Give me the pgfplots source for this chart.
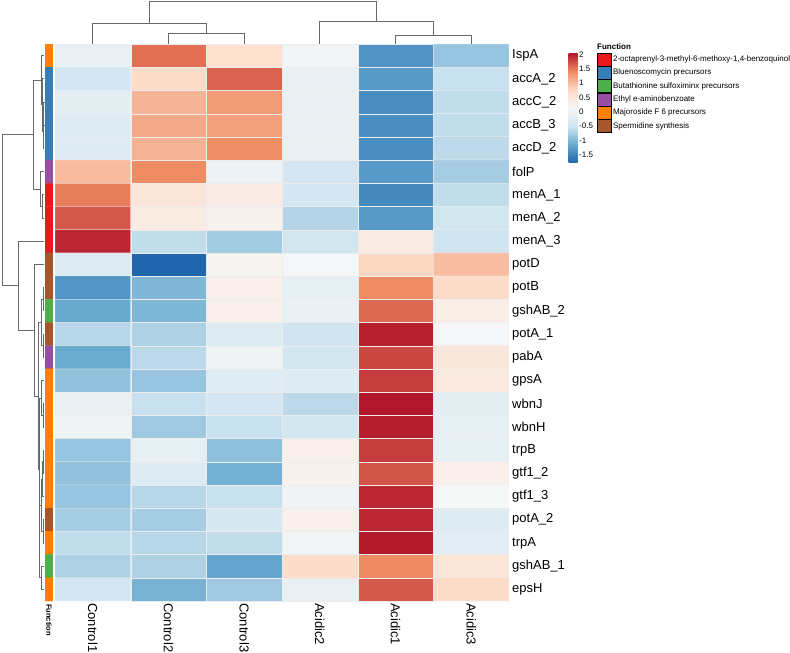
\documentclass[border=0pt]{standalone}
\usepackage{fontspec}
\setmainfont{Liberation Sans}
\usepackage{pgfplots}
\usepackage{pgfplotstable}
\pgfplotsset{compat=1.18}

\definecolor{dendro}{RGB}{105,105,105}
\definecolor{fnred}{RGB}{228,26,28}
\definecolor{fnblue}{RGB}{55,126,184}
\definecolor{fngreen}{RGB}{77,175,74}
\definecolor{fnpurple}{RGB}{152,78,163}
\definecolor{fnorange}{RGB}{255,127,0}
\definecolor{fnbrown}{RGB}{166,86,40}

% row-scaled expression: column index x, gene index y, z-score c
\pgfplotstableread{
x y c
0 0 -0.12
1 0 1.56
2 0 0.65
3 0 0.05
4 0 -1.35
5 0 -0.85
0 1 -0.45
1 1 0.75
2 1 1.63
3 1 -0.10
4 1 -1.27
5 1 -0.55
0 2 -0.20
1 2 1.08
2 2 1.28
3 2 -0.12
4 2 -1.41
5 2 -0.60
0 3 -0.28
1 3 1.17
2 3 1.24
3 3 -0.10
4 3 -1.41
5 3 -0.60
0 4 -0.28
1 4 1.10
2 4 1.38
3 4 -0.12
4 4 -1.41
5 4 -0.62
0 5 1.03
1 5 1.40
2 5 -0.05
3 5 -0.45
4 5 -1.27
5 5 -0.77
0 6 1.48
1 6 0.55
2 6 0.40
3 6 -0.45
4 6 -1.45
5 6 -0.60
0 7 1.69
1 7 0.42
2 7 0.25
3 7 -0.68
4 7 -1.27
5 7 -0.48
0 8 1.97
1 8 -0.60
2 8 -0.78
3 8 -0.48
4 8 0.40
5 8 -0.50
0 9 -0.30
1 9 -1.78
2 9 0.20
3 9 0.10
4 9 0.80
5 9 1.02
0 10 -1.32
1 10 -0.99
2 10 0.30
3 10 -0.15
4 10 1.40
5 10 0.73
0 11 -1.14
1 11 -1.00
2 11 0.30
3 11 -0.08
4 11 1.60
5 11 0.35
0 12 -0.66
1 12 -0.72
2 12 -0.30
3 12 -0.50
4 12 2.00
5 12 0.10
0 13 -1.12
1 13 -0.63
2 13 0.00
3 13 -0.48
4 13 1.79
5 13 0.50
0 14 -0.88
1 14 -0.85
2 14 -0.25
3 14 -0.30
4 14 1.85
5 14 0.45
0 15 -0.12
1 15 -0.55
2 15 -0.45
3 15 -0.63
4 15 2.05
5 15 -0.20
0 16 0.00
1 16 -0.80
2 16 -0.55
3 16 -0.48
4 16 2.02
5 16 -0.15
0 17 -0.85
1 17 -0.15
2 17 -0.90
3 17 0.30
4 17 1.85
5 17 -0.15
0 18 -0.87
1 18 -0.30
2 18 -1.07
3 18 0.28
4 18 1.72
5 18 0.30
0 19 -0.85
1 19 -0.66
2 19 -0.55
3 19 0.02
4 19 1.96
5 19 0.12
0 20 -0.77
1 20 -0.76
2 20 -0.38
3 20 0.30
4 20 1.96
5 20 -0.28
0 21 -0.60
1 21 -0.66
2 21 -0.60
3 21 0.05
4 21 2.04
5 21 -0.22
0 22 -0.72
1 22 -0.71
2 22 -1.17
3 22 0.72
4 22 1.42
5 22 0.52
0 23 -0.45
1 23 -1.04
2 23 -0.80
3 23 -0.12
4 23 1.68
5 23 0.75
}\heat

% function annotation: colour index per gene (0 red,1 blue,2 green,3 purple,4 orange,5 brown)
\pgfplotstableread{
x y k
0 0 4
1 0 4
0 1 1
1 1 1
0 2 1
1 2 1
0 3 1
1 3 1
0 4 1
1 4 1
0 5 3
1 5 3
0 6 0
1 6 0
0 7 0
1 7 0
0 8 0
1 8 0
0 9 5
1 9 5
0 10 5
1 10 5
0 11 2
1 11 2
0 12 5
1 12 5
0 13 3
1 13 3
0 14 4
1 14 4
0 15 4
1 15 4
0 16 4
1 16 4
0 17 4
1 17 4
0 18 4
1 18 4
0 19 4
1 19 4
0 20 5
1 20 5
0 21 4
1 21 4
0 22 2
1 22 2
0 23 4
1 23 4
}\annot

\pgfplotsset{
  dendro/.style={draw=dendro, line width=0.85pt, no marks, forget plot},
}

\begin{document}
\begin{tikzpicture}
\useasboundingbox (0,0) rectangle (790pt,653pt);

% ---------- heatmap ----------
\begin{axis}[
  at={(55pt,52pt)}, anchor=south west,
  scale only axis, width=454pt, height=557pt,
  xmin=-0.5, xmax=5.5, ymin=-0.5, ymax=23.5, y dir=reverse,
  axis line style={draw=none}, major tick length=0pt,
  xtick={0,...,5},
  xticklabels={Control1,Control2,Control3,Acidic2,Acidic1,Acidic3},
  xticklabel style={rotate=-90, anchor=west, inner sep=2pt},
  ytick={0,...,23},
  yticklabels={IspA,accA\_2,accC\_2,accB\_3,accD\_2,folP,menA\_1,menA\_2,menA\_3,potD,potB,gshAB\_2,potA\_1,pabA,gpsA,wbnJ,wbnH,trpB,gtf1\_2,gtf1\_3,potA\_2,trpA,gshAB\_1,epsH},
  yticklabel pos=right,
  yticklabel style={anchor=west, inner sep=3pt},
  ticklabel style={font=\fontsize{13}{15}\selectfont},
  colormap={rdbu}{rgb255=(33,102,172) rgb255=(103,169,207) rgb255=(209,229,240) rgb255=(247,247,247) rgb255=(253,219,199) rgb255=(239,138,98) rgb255=(178,24,43)},
  point meta min=-1.78, point meta max=2.05,
  colorbar,
  colorbar style={
    at={(parent axis.north east)}, anchor=north west,
    xshift=51pt, yshift=-9pt,
    width=9pt, height=110pt,
    axis line style={draw=none}, major tick length=0pt,
    ytick={-1.5,-1,-0.5,0,0.5,1,1.5,2},
    yticklabels={-1.5,-1,-0.5,0,0.5,1,1.5,2},
    yticklabel style={font=\fontsize{8}{9}\selectfont, inner sep=1.5pt},
  },
  legend style={at={(1.1938,0.9844)}, anchor=north west, draw=none, fill=none,
    inner sep=0pt, row sep=0pt, font=\fontsize{8}{9}\selectfont,
    nodes={inner sep=1.5pt}, cells={anchor=west}},
  legend cell align=left,
  legend image code/.code={\fill[#1] (0pt,-6.45pt) rectangle (14pt,6.45pt);},
]
\addplot[matrix plot*, mesh/cols=6, point meta=explicit,
  draw=white!70!lightgray, line width=0.25pt, forget plot]
  table[x=x, y=y, meta=c] {\heat};

\addlegendimage{fill=fnred}
\addlegendentry{2-octaprenyl-3-methyl-6-methoxy-1,4-benzoquinol}
\addlegendimage{fill=fnblue}
\addlegendentry{Bluenoscomycin precursors}
\addlegendimage{fill=fngreen}
\addlegendentry{Butathionine sulfoximinx precursors}
\addlegendimage{fill=fnpurple}
\addlegendentry{Ethyl e-aminobenzoate}
\addlegendimage{fill=fnorange}
\addlegendentry{Majoroside F 6 precursors}
\addlegendimage{fill=fnbrown}
\addlegendentry{Spermidine synthesis}
\end{axis}

% ---------- function annotation bar ----------
\begin{axis}[
  at={(45pt,52pt)}, anchor=south west,
  scale only axis, width=8pt, height=557pt,
  xmin=-0.5, xmax=1.5, ymin=-0.5, ymax=23.5, y dir=reverse,
  hide axis,
  colormap={set1}{rgb255=(228,26,28) rgb255=(55,126,184) rgb255=(77,175,74) rgb255=(152,78,163) rgb255=(255,127,0) rgb255=(166,86,40)},
  colormap access=direct,
]
\addplot[matrix plot*, mesh/cols=2, point meta=explicit]
  table[x=x, y=y, meta=k] {\annot};
\end{axis}

% ---------- column dendrogram ----------
\begin{axis}[
  at={(55pt,609pt)}, anchor=south west,
  scale only axis, width=454pt, height=42.3pt,
  xmin=-0.5, xmax=5.5, ymin=0, ymax=42.3,
  hide axis, clip=false,
]
\addplot[dendro] coordinates {(1,0) (1,10.3) (2,10.3) (2,0)};
\addplot[dendro] coordinates {(0,0) (0,20.7) (1.5,20.7) (1.5,10.3)};
\addplot[dendro] coordinates {(4,0) (4,9) (5,9) (5,0)};
\addplot[dendro] coordinates {(3,0) (3,22.7) (4.5,22.7) (4.5,9)};
\addplot[dendro] coordinates {(0.75,20.7) (0.75,42.3) (3.75,42.3) (3.75,22.7)};
\end{axis}

% ---------- row dendrogram ----------
\begin{axis}[
  at={(2pt,52pt)}, anchor=south west,
  scale only axis, width=42pt, height=557pt,
  xmin=0, xmax=42, x dir=reverse,
  ymin=-0.5, ymax=23.5, y dir=reverse,
  hide axis, clip=false,
]
\addplot[dendro] coordinates {(0,2) (0.5,2) (0.5,3) (0,3)};
\addplot[dendro] coordinates {(0.5,2.5) (1,2.5) (1,4) (0,4)};
\addplot[dendro] coordinates {(0,1) (1.5,1) (1.5,3.25) (1,3.25)};
\addplot[dendro] coordinates {(0,0) (3,0) (3,2.125) (1.5,2.125)};
\addplot[dendro] coordinates {(0,6) (1.5,6) (1.5,7) (0,7)};
\addplot[dendro] coordinates {(0,5) (4,5) (4,6.5) (1.5,6.5)};
\addplot[dendro] coordinates {(3,1.0625) (11,1.0625) (11,5.75) (4,5.75)};
\addplot[dendro] coordinates {(0,10) (1,10) (1,11) (0,11)};
\addplot[dendro] coordinates {(0,12) (0.8,12) (0.8,13) (0,13)};
\addplot[dendro] coordinates {(1,10.5) (3,10.5) (3,12.5) (0.8,12.5)};
\addplot[dendro] coordinates {(0,15) (1,15) (1,16) (0,16)};
\addplot[dendro] coordinates {(0,14) (2.5,14) (2.5,15.5) (1,15.5)};
\addplot[dendro] coordinates {(0,17) (1,17) (1,18) (0,18)};
\addplot[dendro] coordinates {(1,17.5) (1.7,17.5) (1.7,19) (0,19)};
\addplot[dendro] coordinates {(0,20) (1,20) (1,21) (0,21)};
\addplot[dendro] coordinates {(1.7,18.25) (3,18.25) (3,20.5) (1,20.5)};
\addplot[dendro] coordinates {(0,22) (3,22) (3,23) (0,23)};
\addplot[dendro] coordinates {(3,19.375) (4.5,19.375) (4.5,22.5) (3,22.5)};
\addplot[dendro] coordinates {(2.5,14.75) (5,14.75) (5,20.9375) (4.5,20.9375)};
\addplot[dendro] coordinates {(3,11.5) (5.5,11.5) (5.5,17.84375) (5,17.84375)};
\addplot[dendro] coordinates {(0,9) (10,9) (10,14.671875) (5.5,14.671875)};
\addplot[dendro] coordinates {(0,8) (26,8) (26,11.8359) (10,11.8359)};
\addplot[dendro] coordinates {(11,3.40625) (42,3.40625) (42,9.918) (26,9.918)};
\end{axis}

% ---------- text annotations ----------
\node[anchor=west, inner sep=0pt, font=\bfseries\fontsize{8}{9}\selectfont] at (597pt,606pt) {Function};
\node[rotate=-90, anchor=west, inner sep=0pt, font=\bfseries\fontsize{7.5}{9}\selectfont] at (49pt,49pt) {Function};
\end{tikzpicture}
\end{document}
